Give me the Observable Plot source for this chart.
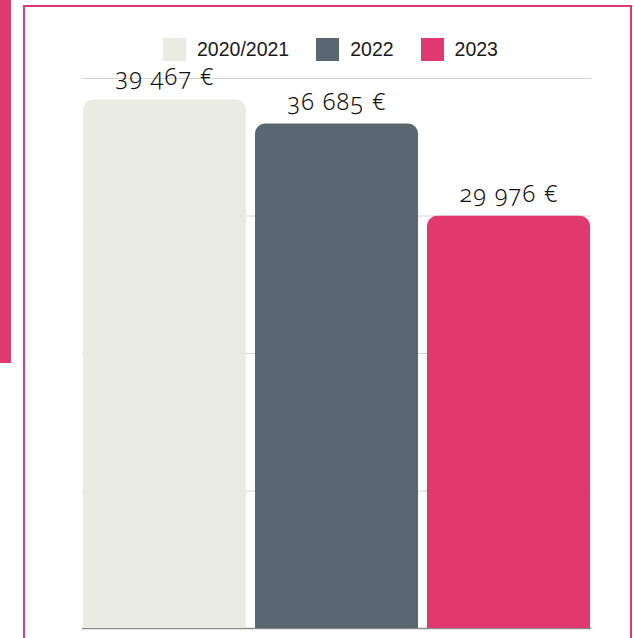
<!DOCTYPE html>
<html>
<head>
<meta charset="utf-8">
<script src="https://cdn.jsdelivr.net/npm/d3@7"></script>
<script src="https://cdn.jsdelivr.net/npm/@observablehq/plot@0.6"></script>
<style>
  body { margin: 0; background: #fff; }
  #wrap { position: relative; width: 634px; height: 638px; overflow: hidden; background: #fff; }
  #side { position: absolute; left: 0; top: 0; width: 11px; height: 363px; background: #e0396f; }
  #frame { position: absolute; left: 23px; top: 5px; width: 609px; height: 700px; border: 2.5px solid #e0396f; box-sizing: border-box; }
  #chart { position: absolute; left: 0; top: 0; }
  #legend { position: absolute; left: 163px; top: 37px; display: flex; align-items: center;
            font-family: "Liberation Sans", Arial, sans-serif; font-size: 19.5px; color: #1a1a1a; }
  #legend .sw { width: 23px; height: 23px; margin-right: 11px; }
  #legend .lb { margin-right: 27px; line-height: 24px; }
  #chart svg text { font-variant-numeric: oldstyle-nums; font-feature-settings: "onum" 1; letter-spacing: 1.3px; }
</style>
</head>
<body>
<div id="wrap">
  <div id="side"></div>
  <div id="frame"></div>
  <div id="chart"></div>
  <div id="legend"></div>
</div>
<script>
// Data
const categories = ["2020/2021", "2022", "2023"];
const colors = ["#eaebe3", "#5b6770", "#e0396f"];
const labelValues = [39467, 36685, 29976];      // amounts printed above the bars
const barHeights = [38440, 36685, 29976];       // bar tops as drawn in the picture
const gridTicks = [10000, 20000, 30000, 40000];

const data = categories.map((c, i) => ({
  cat: c,
  bar: barHeights[i],
  label: d3.format(",")(labelValues[i]).replace(/,/g, " ") + " €"
}));

const chart = Plot.plot({
  width: 634,
  height: 638,
  marginLeft: 82,
  marginRight: 43,
  marginTop: 78,
  marginBottom: 10,
  style: { background: "none", overflow: "visible" },
  x: { domain: categories, paddingInner: 0.05, paddingOuter: 0, axis: null },
  y: { domain: [0, 40000], axis: null },
  color: { domain: categories, range: colors },
  marks: [
    Plot.ruleY(gridTicks, { stroke: "#d4d4d4", strokeWidth: 1 }),
    Plot.ruleY([0], { stroke: "#8c8c8c", strokeWidth: 1.5 }),
    Plot.barY(data, { x: "cat", y1: () => -5000, y2: "bar", fill: "cat", rx: 10, clip: true }),
    Plot.text(data, { x: "cat", y: "bar", text: "label", dy: -22, fontSize: 23.5,
                      fill: "#111", fontFamily: "Noto Sans", fontWeight: 300 })
  ]
});
document.getElementById("chart").appendChild(chart);

const legend = document.getElementById("legend");
categories.forEach((c, i) => {
  const sw = document.createElement("div");
  sw.className = "sw";
  sw.style.background = colors[i];
  const lb = document.createElement("div");
  lb.className = "lb";
  lb.textContent = c;
  legend.appendChild(sw);
  legend.appendChild(lb);
});
</script>
</body>
</html>
